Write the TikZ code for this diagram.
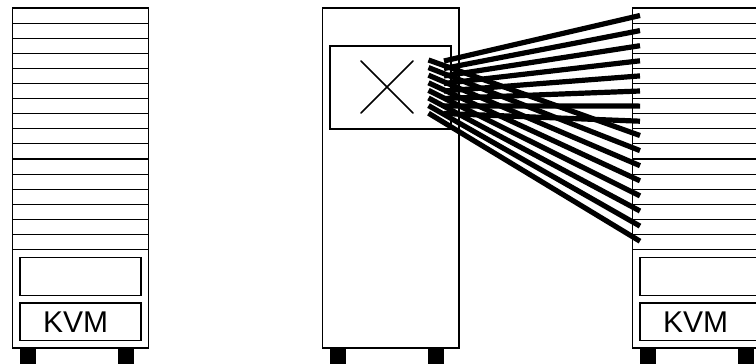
\documentclass[tikz,border=0pt]{standalone}
\usepackage{fontspec}
\setmainfont{Liberation Sans}
\tikzset{
  rackline/.style={draw=black,line width=1.05pt},
  slotbox/.style={draw=black,line width=1.05pt,fill=white},
  foot/.style={fill=black,draw=none},
  wire/.style={draw=black,line width=5.2pt},
  crossline/.style={draw=black,line width=1.7pt,line cap=round},
  kvmlabel/.style={font=\fontsize{30}{30}\selectfont,inner sep=0pt,anchor=center}
}
\begin{document}
\begin{tikzpicture}[x=1pt,y=-1pt]
\clip (0,0) rectangle (756,364);
\fill[white] (0,0) rectangle (756,364);
% left rack
\draw[rackline] (12.5,8) rectangle (148.5,348);
\foreach \k in {1,...,16}{\draw[rackline] (12.5,8+\k*15.1) -- (148.5,8+\k*15.1);}
\draw[slotbox] (20,257.5) rectangle (141,295.5);
\draw[slotbox] (20,303) rectangle (141,340.5);
\node[kvmlabel] (kvmL) at (75.7,322) {KVM};
\fill[foot] (20,348.5) rectangle (36,364);
\fill[foot] (118,348.5) rectangle (134,364);
% middle rack
\draw[rackline] (322.5,8) rectangle (459,348);
\draw[slotbox] (330,46) rectangle (451,129);
\draw[crossline] (361,61) -- (413,113);
\draw[crossline] (413,61) -- (361,113);
\fill[foot] (330,348.5) rectangle (346,364);
\fill[foot] (428,348.5) rectangle (444,364);
% right rack
\draw[rackline] (632.5,8) rectangle (768.5,348);
\foreach \k in {1,...,16}{\draw[rackline] (632.5,8+\k*15.1) -- (768.5,8+\k*15.1);}
\draw[slotbox] (640,257.5) rectangle (761,295.5);
\draw[slotbox] (640,303) rectangle (761,340.5);
\node[kvmlabel] (kvmR) at (695.7,322) {KVM};
\fill[foot] (640,348.5) rectangle (656,364);
\fill[foot] (738,348.5) rectangle (754,364);
% wires
\foreach \k in {1,...,8}{
  \coordinate (a\k) at (444,61+\k*7.5-7.5);
  \coordinate (b\k) at (640,15.5+\k*15.1-15.1);
  \draw[wire] (a\k) -- (b\k);
}
\foreach \k in {1,...,8}{
  \coordinate (c\k) at (428.5,60+\k*7.6-7.6);
  \coordinate (d\k) at (640,135.5+\k*15.1-15.1);
  \draw[wire] (c\k) -- (d\k);
}
\end{tikzpicture}
\end{document}
